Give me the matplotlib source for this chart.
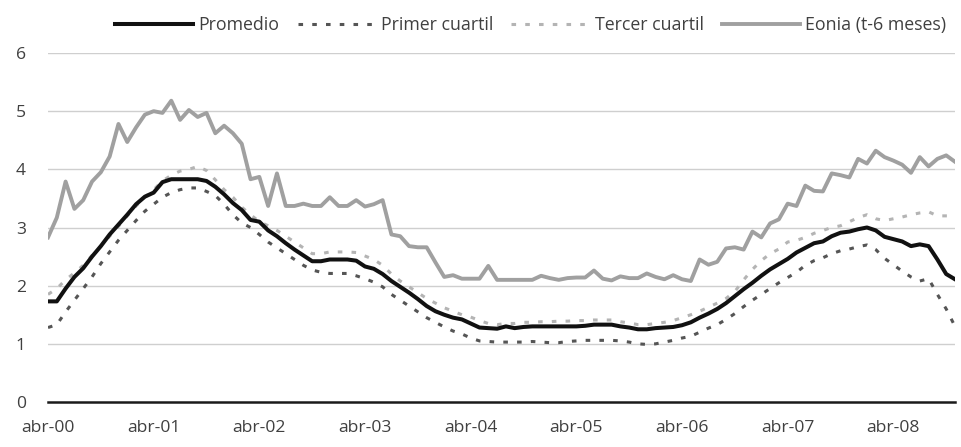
import numpy as np
import matplotlib
matplotlib.use('Agg')
import matplotlib.pyplot as plt

plt.rcParams['font.family'] = ['Open Sans', 'DejaVu Sans']

## monthly series, abr-2000 .. nov-2008
promedio = [1.73, 1.73, 1.95, 2.15, 2.3, 2.5, 2.68, 2.88, 3.05, 3.22,
            3.4, 3.53, 3.6, 3.78, 3.83, 3.83, 3.83, 3.83, 3.8, 3.7,
            3.57, 3.42, 3.3, 3.13, 3.1, 2.95, 2.85, 2.73, 2.62, 2.52,
            2.42, 2.42, 2.45, 2.45, 2.45, 2.43, 2.33, 2.29, 2.2, 2.08,
            1.98, 1.88, 1.77, 1.65, 1.56, 1.5, 1.45, 1.42, 1.35, 1.28,
            1.27, 1.26, 1.3, 1.27, 1.29, 1.3, 1.3, 1.3, 1.3, 1.3,
            1.3, 1.31, 1.33, 1.33, 1.33, 1.3, 1.28, 1.25, 1.25, 1.27,
            1.28, 1.29, 1.32, 1.37, 1.45, 1.52, 1.6, 1.7, 1.82, 1.94,
            2.05, 2.17, 2.28, 2.37, 2.46, 2.57, 2.65, 2.73, 2.76, 2.85,
            2.91, 2.93, 2.97, 3.0, 2.95, 2.84, 2.8, 2.76, 2.68, 2.71,
            2.68, 2.45, 2.2, 2.11]

primer = [1.28, 1.33, 1.55, 1.75, 1.95, 2.15, 2.38, 2.58, 2.78, 2.95,
          3.12, 3.28, 3.4, 3.52, 3.6, 3.65, 3.68, 3.68, 3.62, 3.55,
          3.4, 3.22, 3.08, 3.0, 2.88, 2.75, 2.65, 2.55, 2.45, 2.35,
          2.27, 2.23, 2.21, 2.21, 2.21, 2.17, 2.12, 2.06, 1.98, 1.85,
          1.75, 1.65, 1.55, 1.45, 1.37, 1.29, 1.22, 1.17, 1.1, 1.05,
          1.04, 1.03, 1.03, 1.03, 1.03, 1.04, 1.03, 1.02, 1.02, 1.04,
          1.05, 1.06, 1.06, 1.06, 1.06, 1.05, 1.03, 1.0, 0.99, 1.0,
          1.03, 1.06, 1.1, 1.13, 1.2, 1.27, 1.33, 1.42, 1.52, 1.64,
          1.75, 1.85, 1.95, 2.05, 2.14, 2.23, 2.35, 2.43, 2.48, 2.55,
          2.6, 2.63, 2.67, 2.7, 2.62, 2.47, 2.36, 2.25, 2.15, 2.08,
          2.12, 1.85, 1.6, 1.3]

tercer = [1.85, 1.95, 2.1, 2.22, 2.35, 2.52, 2.68, 2.85, 3.02, 3.2,
          3.37, 3.52, 3.65, 3.8, 3.9, 3.97, 4.0, 4.05, 3.98, 3.82,
          3.65, 3.52, 3.35, 3.22, 3.1, 3.03, 2.95, 2.85, 2.75, 2.65,
          2.55, 2.55, 2.58, 2.58, 2.58, 2.57, 2.51, 2.45, 2.35, 2.2,
          2.08, 1.98, 1.88, 1.78, 1.7, 1.62, 1.56, 1.5, 1.46, 1.4,
          1.35, 1.33, 1.35, 1.35, 1.37, 1.37, 1.38, 1.38, 1.39, 1.39,
          1.4, 1.4, 1.41, 1.41, 1.41, 1.38, 1.36, 1.33, 1.33, 1.35,
          1.37, 1.4, 1.45, 1.5, 1.56, 1.63, 1.7, 1.78, 1.9, 2.1,
          2.28, 2.43, 2.55, 2.63, 2.75, 2.78, 2.83, 2.9, 2.95, 3.0,
          3.03, 3.1, 3.17, 3.22, 3.15, 3.12, 3.15, 3.18, 3.22, 3.25,
          3.27, 3.2, 3.2, 3.2]

eonia = [2.83, 3.17, 3.79, 3.32, 3.47, 3.79, 3.95, 4.22, 4.78, 4.47,
         4.72, 4.94, 5.0, 4.97, 5.18, 4.85, 5.02, 4.9, 4.97, 4.62,
         4.75, 4.62, 4.44, 3.83, 3.87, 3.37, 3.93, 3.37, 3.37, 3.41,
         3.37, 3.37, 3.52, 3.37, 3.37, 3.47, 3.36, 3.4, 3.47, 2.88,
         2.85, 2.68, 2.66, 2.66, 2.4, 2.15, 2.18, 2.12, 2.12, 2.12,
         2.34, 2.1, 2.1, 2.1, 2.1, 2.1, 2.17, 2.13, 2.1, 2.13,
         2.14, 2.14, 2.26, 2.12, 2.09, 2.16, 2.13, 2.13, 2.21, 2.15,
         2.11, 2.18, 2.11, 2.08, 2.45, 2.36, 2.41, 2.64, 2.66, 2.62,
         2.93, 2.83, 3.07, 3.14, 3.41, 3.37, 3.72, 3.63, 3.62, 3.93,
         3.9, 3.86, 4.18, 4.1, 4.32, 4.21, 4.15, 4.08, 3.94, 4.21,
         4.05, 4.18, 4.24, 4.13]

tick_labels = ['abr-00', 'abr-01', 'abr-02', 'abr-03', 'abr-04',
               'abr-05', 'abr-06', 'abr-07', 'abr-08']

x = np.arange(len(promedio))
txt = '#404040'

fig = plt.figure(figsize=(9.62, 4.47), dpi=100)
ax = fig.add_axes([48/962, 45/447, 907/962, 349/447])

for yv in range(1, 7):
    ax.axhline(yv, color='#cfcfcf', lw=1.0, zorder=0)

ax.plot(x, eonia, color='#a0a0a0', lw=2.8, label='Eonia (t-6 meses)', zorder=2)
ax.plot(x, tercer, color='#b4b4b4', lw=2.2, dashes=(1.5, 3.0), label='Tercer cuartil', zorder=3)
ax.plot(x, primer, color='#555555', lw=2.2, dashes=(1.5, 3.0), label='Primer cuartil', zorder=3)
ax.plot(x, promedio, color='#111111', lw=2.9, label='Promedio', zorder=4)

ax.set_xlim(0, len(x) - 1)
ax.set_ylim(0, 6)
ax.set_yticks(range(0, 7))
ax.set_xticks(x[::12])
ax.set_xticklabels(tick_labels)
ax.tick_params(axis='both', length=0, labelsize=12.6, colors=txt)
ax.tick_params(axis='y', pad=16)
ax.tick_params(axis='x', pad=13)
for s in ['top', 'right', 'left']:
    ax.spines[s].set_visible(False)
ax.spines['bottom'].set_color('#1a1a1a')
ax.spines['bottom'].set_linewidth(1.8)

h, l = ax.get_legend_handles_labels()
order = [3, 2, 1, 0]
leg = fig.legend([h[i] for i in order], [l[i] for i in order], ncol=4,
                 loc='center right', bbox_to_anchor=(0.991, 1 - 25/447),
                 frameon=False, fontsize=12.8, handlelength=4.4,
                 handletextpad=0.3, columnspacing=1.0, borderaxespad=0)
for t in leg.get_texts():
    t.set_color(txt)

fig.savefig('out.png', dpi=100)
plt.close('all')
